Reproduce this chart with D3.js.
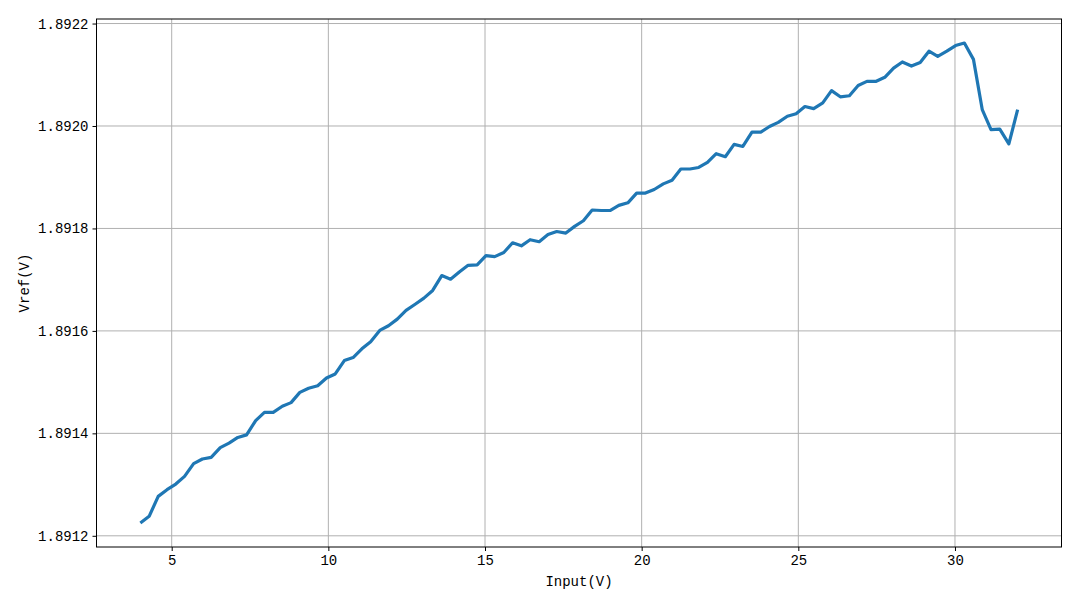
<!DOCTYPE html>
<html>
<head>
<meta charset="utf-8">
<script src="https://cdn.jsdelivr.net/npm/d3@7"></script>
<style>
  html, body { margin: 0; padding: 0; background: #fff; }
  svg text { font-family: "Liberation Mono", "DejaVu Sans Mono", monospace; fill: #000; }
</style>
</head>
<body>
<svg id="chart" width="1080" height="608"></svg>
<script>
// ---- data ----
const inputV = [
  4.00, 4.28, 4.57, 4.85, 5.13, 5.41, 5.70, 5.98, 6.26, 6.55,
  6.83, 7.11, 7.39, 7.68, 7.96, 8.24, 8.53, 8.81, 9.09, 9.37,
  9.66, 9.94, 10.22, 10.51, 10.79, 11.07, 11.35, 11.64, 11.92, 12.20,
  12.48, 12.77, 13.05, 13.33, 13.62, 13.90, 14.18, 14.46, 14.75, 15.03,
  15.31, 15.60, 15.88, 16.16, 16.44, 16.73, 17.01, 17.29, 17.58, 17.86,
  18.14, 18.42, 18.71, 18.99, 19.27, 19.56, 19.84, 20.12, 20.40, 20.69,
  20.97, 21.25, 21.54, 21.82, 22.10, 22.38, 22.67, 22.95, 23.23, 23.52,
  23.80, 24.08, 24.36, 24.65, 24.93, 25.21, 25.49, 25.78, 26.06, 26.34,
  26.63, 26.91, 27.19, 27.47, 27.76, 28.04, 28.32, 28.61, 28.89, 29.17,
  29.45, 29.74, 30.02, 30.30, 30.59, 30.87, 31.15, 31.43, 31.72, 32.00
];
const vref = [
  1.891225, 1.891238, 1.891277, 1.891290, 1.891301, 1.891316, 1.891341, 1.891350, 1.891353, 1.891372,
  1.891381, 1.891392, 1.891397, 1.891425, 1.891441, 1.891441, 1.891453, 1.891460, 1.891480, 1.891488,
  1.891493, 1.891508, 1.891516, 1.891542, 1.891548, 1.891565, 1.891579, 1.891601, 1.891610, 1.891623,
  1.891640, 1.891652, 1.891664, 1.891679, 1.891708, 1.891701, 1.891715, 1.891728, 1.891729, 1.891747,
  1.891745, 1.891753, 1.891772, 1.891766, 1.891778, 1.891774, 1.891788, 1.891794, 1.891791, 1.891804,
  1.891815, 1.891836, 1.891835, 1.891835, 1.891845, 1.891850, 1.891869, 1.891869, 1.891876, 1.891887,
  1.891894, 1.891916, 1.891916, 1.891919, 1.891929, 1.891946, 1.891940, 1.891964, 1.891960, 1.891988,
  1.891988, 1.891999, 1.892007, 1.892019, 1.892024, 1.892038, 1.892034, 1.892045, 1.892069, 1.892057,
  1.892059, 1.892079, 1.892087, 1.892087, 1.892095, 1.892113, 1.892125, 1.892117, 1.892124, 1.892146,
  1.892136, 1.892146, 1.892157, 1.892162, 1.892130, 1.892032, 1.891993, 1.891994, 1.891965, 1.892032
];
const xTicks = [5, 10, 15, 20, 25, 30];
const yTicks = [1.8912, 1.8914, 1.8916, 1.8918, 1.8920, 1.8922];
const yTickLabels = ["1.8912", "1.8914", "1.8916", "1.8918", "1.8920", "1.8922"];
const xLabel = "Input(V)";
const yLabel = "Vref(V)";

// ---- layout ----
const plotLeft = 96.5, plotRight = 1061.5, plotTop = 19, plotBottom = 547;
const svg = d3.select("#chart");
const FONT = "Liberation Mono, DejaVu Sans Mono, monospace";

const xMin = d3.min(inputV), xMax = d3.max(inputV);
const xPad = (xMax - xMin) * 0.05;
const yMin = d3.min(vref), yMax = d3.max(vref);
const yPad = (yMax - yMin) * 0.05;

const x = d3.scaleLinear().domain([xMin - xPad, xMax + xPad]).range([plotLeft, plotRight]);
const y = d3.scaleLinear().domain([yMin - yPad, yMax + yPad]).range([plotBottom, plotTop]);

// grid
const grid = svg.append("g");
grid.selectAll("line.vx").data(xTicks).enter().append("line")
  .attr("x1", d => x(d)).attr("x2", d => x(d))
  .attr("y1", plotTop).attr("y2", plotBottom)
  .attr("stroke", "#b0b0b0").attr("stroke-width", 1);
grid.selectAll("line.hy").data(yTicks).enter().append("line")
  .attr("x1", plotLeft).attr("x2", plotRight)
  .attr("y1", d => y(d)).attr("y2", d => y(d))
  .attr("stroke", "#b0b0b0").attr("stroke-width", 1);

// line
const line = d3.line().x((d, i) => x(inputV[i])).y(d => y(d));
svg.append("path").datum(vref)
  .attr("d", line)
  .attr("fill", "none")
  .attr("stroke", "#1f77b4")
  .attr("stroke-width", 3.2)
  .attr("stroke-linejoin", "round")
  .attr("stroke-linecap", "butt");

// axes
const xAxis = d3.axisBottom(x).tickValues(xTicks).tickSize(4).tickPadding(4).tickFormat(d3.format("d"));
const gx = svg.append("g").attr("transform", `translate(0,${plotBottom})`).call(xAxis);
gx.select(".domain").remove();
gx.selectAll("text").attr("font-size", 14).style("font-family", FONT).attr("fill", "#000");

const yAxis = d3.axisLeft(y).tickValues(yTicks).tickSize(4).tickPadding(4)
  .tickFormat((d, i) => yTickLabels[i]);
const gy = svg.append("g").attr("transform", `translate(${plotLeft},0)`).call(yAxis);
gy.select(".domain").remove();
gy.selectAll("text").attr("font-size", 14).style("font-family", FONT).attr("fill", "#000");

svg.selectAll(".tick line").attr("stroke", "#000").attr("stroke-width", 1);

// frame
svg.append("rect")
  .attr("x", plotLeft).attr("y", plotTop)
  .attr("width", plotRight - plotLeft).attr("height", plotBottom - plotTop)
  .attr("fill", "none").attr("stroke", "#000").attr("stroke-width", 1);

// labels
svg.append("text")
  .attr("x", (plotLeft + plotRight) / 2).attr("y", 586)
  .attr("text-anchor", "middle").attr("font-size", 14)
  .text(xLabel);
svg.append("text")
  .attr("transform", `translate(29,${(plotTop + plotBottom) / 2}) rotate(-90)`)
  .attr("text-anchor", "middle").attr("font-size", 14)
  .text(yLabel);
</script>
</body>
</html>
